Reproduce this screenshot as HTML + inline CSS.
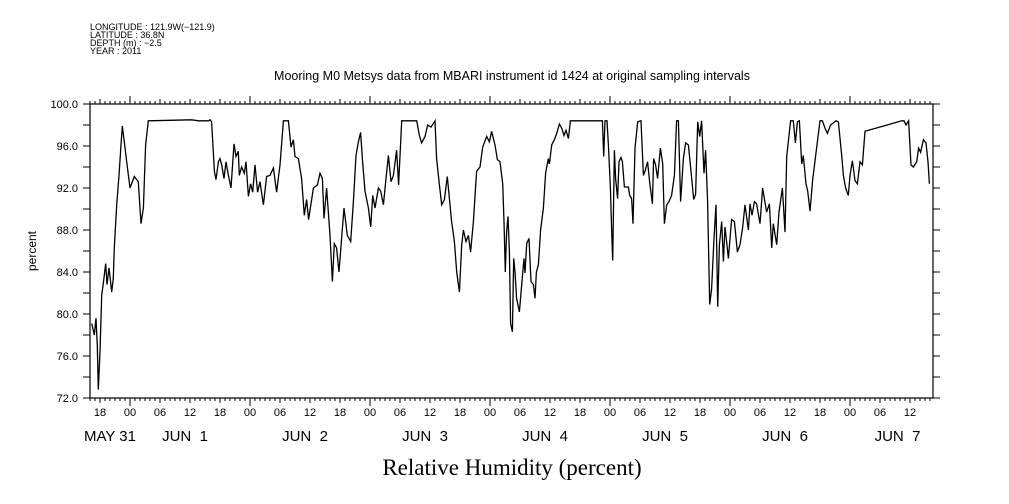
<!DOCTYPE html>
<html><head><meta charset="utf-8"><style>
body{margin:0;background:#fff;}
svg{display:block;font-family:"Liberation Sans",sans-serif;}
</style></head><body>
<svg id="c" width="1009" height="504" viewBox="0 0 1009 504" xmlns="http://www.w3.org/2000/svg">
<g font-size="9" fill="#000">
<text x="90" y="30">LONGITUDE : 121.9W(−121.9)</text>
<text x="90" y="38">LATITUDE : 36.8N</text>
<text x="90" y="46">DEPTH (m) : −2.5</text>
<text x="90" y="54">YEAR : 2011</text>
</g>
<text x="512" y="80" font-size="12.5" text-anchor="middle">Mooring M0 Metsys data from MBARI instrument id 1424 at original sampling intervals</text>
<text transform="translate(36,251) rotate(-90)" font-size="12" text-anchor="middle">percent</text>
<text x="512" y="475" font-family="Liberation Serif,serif" font-size="23" text-anchor="middle">Relative Humidity (percent)</text>
<g id="axes"></g>
<path id="line" fill="none" stroke="#000" stroke-width="1.3"/>
</svg>
<script>
const hours=[-7.67,-7.13,-6.8,-6.53,-6.33,-6,-5.67,-5.33,-4.87,-4.6,-4.2,-3.67,-3.33,-3.13,-2.67,-2.2,-1.8,-1.53,-1.13,-0.67,0,0.87,1.67,2.2,2.67,3.13,3.67,12.33,13.67,15.67,16,16.33,16.87,17.2,17.67,18,18.33,18.8,19.2,19.67,20.2,20.8,21.2,21.67,21.87,22.33,22.87,23.2,23.67,24.13,24.53,25,25.53,26,26.67,27.33,28,28.67,29.33,30,30.67,31.67,32.2,32.67,33,33.67,34.33,34.87,35.33,35.73,36.67,37.47,38,38.47,38.8,39.33,40,40.47,40.87,41.33,41.8,42.33,42.8,43.47,44.13,44.67,45.2,45.67,46.13,46.53,47,47.67,48.13,48.53,49,49.67,50.13,50.67,51.2,51.67,52.2,52.67,53.33,53.73,54.33,57.33,57.87,58.33,59,59.53,60.2,61,61.33,61.87,62.33,62.87,63.47,64.33,64.87,65.33,65.87,66.33,66.67,67.2,67.67,68.13,68.67,69.33,70,70.53,71.33,71.87,72.33,73,73.47,74,74.53,74.8,75.07,75.33,75.6,75.87,76.13,76.47,76.73,77,77.33,77.87,78.33,78.8,79,79.33,79.8,80.2,80.67,81,81.27,81.67,82.13,82.67,83.13,83.67,83.87,84.33,84.87,85.33,85.87,86.33,86.8,87.2,87.67,88.07,94.47,94.73,95,95.4,95.67,96.07,96.33,96.53,96.87,97.13,97.53,97.8,98.2,98.47,98.87,99.67,99.93,100.33,100.6,101,101.53,102.2,102.67,103,103.53,103.93,104.47,104.73,105.13,105.53,106.07,106.53,106.87,107.33,107.8,108.33,108.87,109.33,109.67,110.13,110.67,111.13,111.67,112.2,112.73,113.13,113.53,113.93,114.33,114.8,115.13,115.53,115.93,116.33,116.8,117.2,117.53,117.87,118.33,118.67,119,119.67,120.33,120.87,121.47,122,122.53,123,123.67,124,124.4,124.87,125.33,126,126.53,127.33,127.87,128.33,128.67,129.33,129.8,130.47,131,131.33,132.13,132.67,133.07,133.47,133.87,134.33,134.67,135.2,135.53,136,136.53,138,138.47,139,139.47,140.13,141.2,141.67,142.33,142.67,143.13,143.67,144,144.47,145,145.47,146,146.47,147,154.33,154.8,155.2,155.73,156.2,156.67,157.33,157.73,158.13,158.67,159.2,159.6,159.87];
const humidity=[79.1,78.0,79.6,77.0,72.8,76.4,81.8,82.9,84.8,82.8,84.4,82.1,83.4,86.3,90.4,93.2,96.1,97.9,96.4,94.5,92.0,93.1,92.6,88.6,90.1,96.1,98.4,98.5,98.4,98.4,98.5,98.3,93.6,92.8,94.5,94.8,94.2,92.9,94.5,93.2,92.0,96.2,95.0,95.5,93.2,94.0,93.4,94.5,91.2,92.4,91.6,94.2,91.6,92.6,90.4,93.1,93.2,93.9,91.6,94.2,98.4,98.4,95.9,96.6,95.0,94.8,92.9,89.4,90.9,89.0,92.0,92.3,93.4,92.9,89.1,92.0,87.5,83.1,86.7,86.3,84.0,87.2,90.1,87.5,86.9,90.7,95.1,96.4,97.3,94.5,91.7,90.1,88.3,91.3,90.1,92.0,91.7,90.4,92.9,95.1,92.6,93.2,95.6,92.3,98.4,98.4,97.0,96.3,96.9,98.0,97.8,98.4,94.8,92.3,90.4,90.9,93.1,88.8,86.9,84.0,82.1,86.6,88.0,86.9,87.5,85.9,88.8,93.6,94.0,95.9,96.9,96.4,97.4,96.1,94.7,94.5,92.4,88.8,84.0,87.8,89.3,85.9,79.1,78.3,85.3,84.0,81.5,80.2,82.8,85.3,83.9,86.7,87.2,83.1,82.8,81.5,84.0,84.7,88.0,90.1,93.4,94.8,94.3,96.1,96.6,97.2,98.1,97.7,97.0,97.5,96.7,98.4,98.4,95.0,98.4,98.4,96.1,92.0,87.8,85.1,95.6,92.9,91.0,94.5,94.9,94.5,92.1,92.1,91.3,91.0,88.6,95.8,98.3,98.4,93.2,93.6,94.5,92.6,90.5,94.8,94.2,92.9,95.8,94.3,88.6,90.4,90.7,91.3,93.2,98.4,98.4,90.7,94.8,96.3,96.1,93.6,90.9,91.4,98.3,96.9,98.4,93.4,95.6,90.7,80.9,82.4,87.2,90.4,80.7,86.6,88.8,85.0,88.3,85.3,89.0,88.8,85.9,86.6,88.2,90.4,88.0,90.5,89.4,90.7,90.5,88.6,92.0,89.7,90.5,86.3,88.6,86.6,89.7,92.0,87.8,95.0,98.4,98.4,96.3,98.3,98.4,94.3,95.1,92.4,91.7,89.8,92.8,98.4,98.4,97.7,97.2,98.0,98.4,98.3,95.1,93.2,92.0,91.3,93.2,94.6,92.7,92.4,94.5,94.2,97.4,98.4,98.4,98.0,98.4,94.2,94.0,94.5,95.8,95.4,96.6,96.3,94.5,92.4,90.7];
const yTicks=[72,76,80,84,88,92,96,100];
const yTickLabels=["72.0","76.0","80.0","84.0","88.0","92.0","96.0","100.0"];
const hourTickLabels=["18","00","06","12"];
const dayLabels=["MAY 31","JUN  1","JUN  2","JUN  3","JUN  4","JUN  5","JUN  6","JUN  7"];
const dayLabelHours=[-4,11,35,59,83,107,131,153.5];

const L=90,R=933,T=104,B=398,t0=-8,t1=160.6,v0=72,v1=100;
const X=t=>L+(t-t0)/(t1-t0)*(R-L);
const Y=v=>B-(v-v0)/(v1-v0)*(B-T);
const NS="http://www.w3.org/2000/svg";
const ax=document.getElementById('axes');
function mk(tag,attrs){const e=document.createElementNS(NS,tag);for(const k in attrs)e.setAttribute(k,attrs[k]);ax.appendChild(e);return e;}
const frame=mk('rect',{x:L,y:T,width:R-L,height:B-T,fill:'none',stroke:'#000','stroke-width':1.2});


let d='';
for(let h=Math.ceil(t0);h<=t1;h++){const x=X(h).toFixed(1);const m=((h%24)+24)%24;const len=m===0?8:(m%6===0?5:3);d+=`M${x} ${T}v${-len}M${x} ${B}v${len}`;}
for(let v=72;v<=100;v+=2){const y=Y(v).toFixed(1);d+=`M${L} ${y}h-7M${R} ${y}h7`;}
const ticks=mk('path',{d:d,stroke:'#000','stroke-width':1,fill:'none'});


yTicks.forEach((v,i)=>{const t=mk('text',{x:L-12,y:Y(v)+4,'font-size':11,'text-anchor':'end'});t.textContent=yTickLabels[i];

});
for(let h=-6;h<=t1;h+=6){const m=((h%24)+24)%24;const t=mk('text',{x:X(h),y:416,'font-size':11,'text-anchor':'middle'});t.textContent=hourTickLabels[[18,0,6,12].indexOf(m)];

}
dayLabels.forEach((s,i)=>{const t=mk('text',{x:X(dayLabelHours[i]),y:441,'font-size':15,'text-anchor':'middle','xml:space':'preserve'});t.textContent=s;t.style.whiteSpace='pre';

});
document.getElementById('line').setAttribute('d',hours.map((h,i)=>(i?'L':'M')+X(h).toFixed(1)+' '+Y(humidity[i]).toFixed(1)).join(''));
</script>
</body></html>
